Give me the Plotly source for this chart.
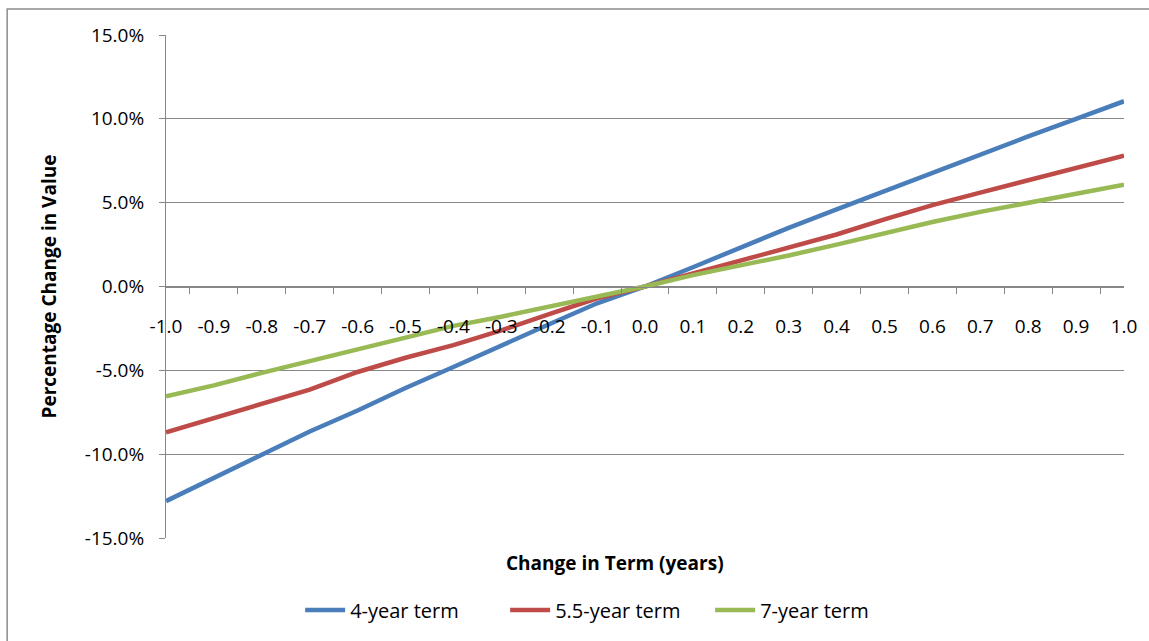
import plotly.graph_objects as go

# Change in term (years) on the category axis
term_changes = ["-1.0", "-0.9", "-0.8", "-0.7", "-0.6", "-0.5", "-0.4", "-0.3", "-0.2", "-0.1",
                "0.0", "0.1", "0.2", "0.3", "0.4", "0.5", "0.6", "0.7", "0.8", "0.9", "1.0"]

# Percentage change in value for each term
term_4yr = [-12.8, -11.4, -10.0, -8.65, -7.4, -6.05, -4.8, -3.5, -2.25, -1.0, 0.0,
            1.15, 2.35, 3.5, 4.6, 5.7, 6.8, 7.9, 8.95, 10.0, 11.05]
term_5_5yr = [-8.7, -7.86, -7.0, -6.15, -5.1, -4.25, -3.5, -2.62, -1.65, -0.7, 0.0,
              0.77, 1.57, 2.36, 3.1, 4.0, 4.85, 5.6, 6.35, 7.08, 7.8]
term_7yr = [-6.55, -5.9, -5.15, -4.45, -3.8, -3.1, -2.35, -1.8, -1.2, -0.58, 0.0,
            0.68, 1.25, 1.85, 2.5, 3.2, 3.85, 4.45, 5.0, 5.55, 6.07]

# Value-axis ticks (fractions) and their labels
y_tick_vals = [-0.15, -0.10, -0.05, 0.0, 0.05, 0.10, 0.15]
y_tick_text = ["-15.0%", "-10.0%", "-5.0%", "0.0%", "5.0%", "10.0%", "15.0%"]

series = [
    ("4-year term", term_4yr, "#4A7EBB"),
    ("5.5-year term", term_5_5yr, "#BE4B48"),
    ("7-year term", term_7yr, "#98B954"),
]

FONT = "'Open Sans', sans-serif"
GRID = "#878787"

fig = go.Figure()
for name, vals, color in series:
    fig.add_trace(go.Scatter(
        x=term_changes, y=[v / 100 for v in vals], name=name, mode="lines",
        line=dict(color=color, width=4.5),
    ))

fig.update_layout(
    width=1149, height=641,
    margin=dict(l=166, r=18, t=35, b=102),
    paper_bgcolor="white", plot_bgcolor="white",
    font=dict(family=FONT, size=19, color="#000000"),
    showlegend=True,
    legend=dict(orientation="h", x=0.461, xanchor="center", y=-0.143, yanchor="middle",
                font=dict(size=20), itemwidth=40, traceorder="normal",
                entrywidth=150, entrywidthmode="pixels"),
    xaxis=dict(
        type="category", anchor="free", position=0.5,
        showgrid=False, showline=True, linecolor=GRID, linewidth=1,
        ticks="outside", ticklen=6, tickcolor=GRID, tickson="boundaries",
        ticklabelstandoff=23, tickfont=dict(size=19),
        zeroline=False,
    ),
    yaxis=dict(
        range=[-0.15, 0.15], tickvals=y_tick_vals, ticktext=y_tick_text,
        showgrid=True, gridcolor=GRID, gridwidth=1,
        showline=True, linecolor=GRID, linewidth=1,
        ticks="outside", ticklen=6, tickcolor=GRID, tickfont=dict(size=19),
        ticklabelstandoff=11,
        zeroline=False,
        title=dict(text="<b>Percentage Change in Value</b>", font=dict(size=19), standoff=23),
    ),
    annotations=[
        dict(text="<b>Change in Term (years)</b>", xref="paper", yref="paper",
             x=0.469, y=-0.05, xanchor="center", yanchor="middle", showarrow=False,
             font=dict(size=19)),
    ],
    shapes=[
        # outer chart-area border
        dict(type="rect", xref="paper", yref="paper", x0=-0.1658, x1=1.2, y0=-0.4, y1=1.0516,
             line=dict(color="#8C8C8C", width=1.5), layer="below"),
    ],
)

fig.write_html("out.html")
